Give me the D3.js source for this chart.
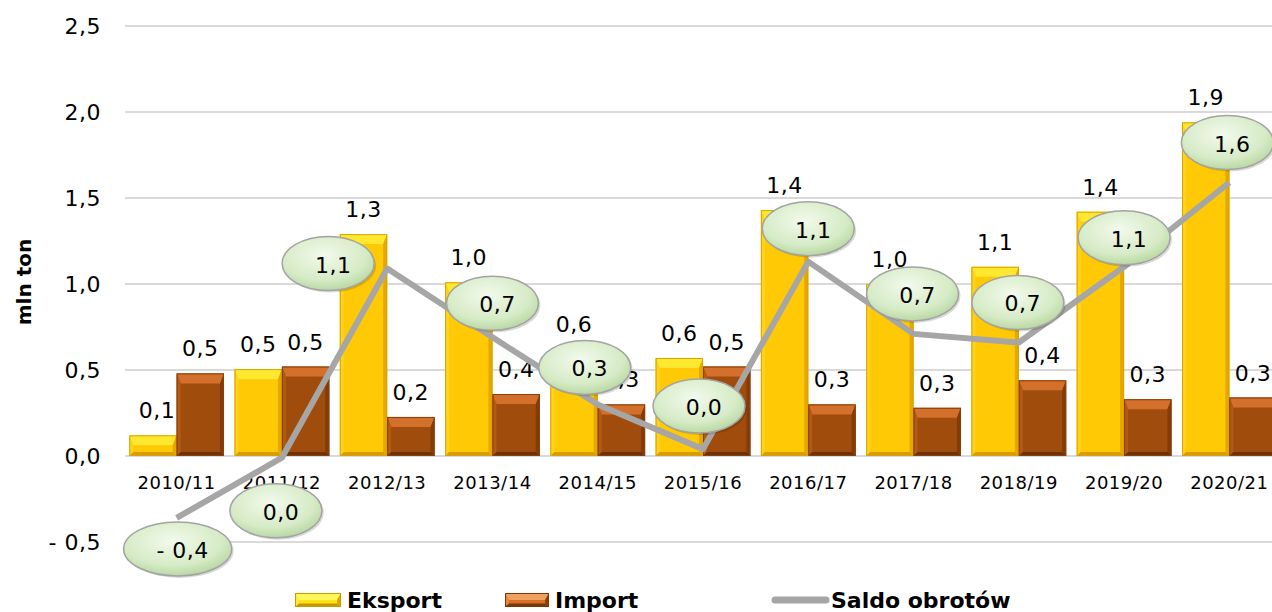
<!DOCTYPE html>
<html>
<head>
<meta charset="utf-8">
<script src="https://cdn.jsdelivr.net/npm/d3@7"></script>
<style>
  body { margin: 0; background: #fff; }
  text { font-family: Verdana, "DejaVu Sans", sans-serif; }
</style>
</head>
<body>
<div class="chart"></div>
<script>
// Data (mln ton)
var categories = ["2010/11", "2011/12", "2012/13", "2013/14", "2014/15", "2015/16",
                  "2016/17", "2017/18", "2018/19", "2019/20", "2020/21"];
var eksport = [0.12, 0.505, 1.29, 1.01, 0.62, 0.57, 1.43, 1.0, 1.10, 1.42, 1.94];
var importVals = [0.48, 0.52, 0.227, 0.36, 0.30, 0.52, 0.30, 0.28, 0.44, 0.33, 0.34];
var saldo = [-0.36, -0.01, 1.09, 0.69, 0.30, 0.04, 1.13, 0.71, 0.66, 1.10, 1.59];
var yTicks = [-0.5, 0, 0.5, 1.0, 1.5, 2.0, 2.5];
var seriesNames = ["Eksport", "Import", "Saldo obrotów"];

// where each saldo callout sits relative to its point (layout only)
var bubbleShift = [[1, 31], [-6, 53], [-59, -5], [0, -34], [-13, -37], [-4, -43],
                   [0, -33], [-1, -40], [-1, -40], [0, -29], [-2, -40]];

var svgWidth = 1272;
var svgHeight = 612;

var svg = d3.select(".chart")
  .append("svg")
  .attr("width", svgWidth)
  .attr("height", svgHeight);

var defs = svg.append("defs");
var grad = defs.append("radialGradient")
  .attr("id", "bubbleFill")
  .attr("cx", "45%").attr("cy", "35%").attr("r", "65%");
grad.append("stop").attr("offset", "0%").attr("stop-color", "#f2faec");
grad.append("stop").attr("offset", "70%").attr("stop-color", "#d6ebc6");
grad.append("stop").attr("offset", "100%").attr("stop-color", "#b9d8a4");

var xScale = d3.scaleBand()
  .domain(categories)
  .range([124, 1282])
  .paddingInner(0.1)
  .paddingOuter(0.05);

var xSub = d3.scaleBand()
  .domain(["e", "i"])
  .range([0, xScale.bandwidth()]);

var yScale = d3.scaleLinear().domain([-0.5, 2.5]).range([542, 26]);

function fmt(v) {
  var r = Math.round(v * 10) / 10;
  if (r === 0) return "0,0";
  var s = Math.abs(r).toFixed(1).replace(".", ",");
  return r < 0 ? "- " + s : s;
}

// grid lines
svg.append("g").selectAll("line")
  .data(yTicks)
  .enter().append("line")
  .attr("x1", 125).attr("x2", svgWidth)
  .attr("y1", function(d) { return yScale(d); })
  .attr("y2", function(d) { return yScale(d); })
  .attr("stroke", function(d) { return d === 0 ? "#d3dae3" : "#d9d9d9"; })
  .attr("stroke-width", 2);

// y tick labels
svg.append("g").selectAll("text")
  .data(yTicks)
  .enter().append("text")
  .attr("x", 101)
  .attr("y", function(d) { return yScale(d) + 8; })
  .attr("text-anchor", "end")
  .attr("font-size", 22)
  .attr("letter-spacing", 0.5)
  .attr("fill", "#000")
  .text(fmt);

// y axis title
svg.append("text")
  .attr("transform", "translate(31,282) rotate(-90)")
  .attr("text-anchor", "middle")
  .attr("font-size", 20)
  .attr("font-weight", "bold")
  .text("mln ton");

// bar with a bevelled look
function bevelBar(g, x, y, w, h, c) {
  var s = Math.min(4, w / 4);
  var bt = Math.min(10, h / 2);
  var bb = Math.min(4, h / 4);
  g.append("rect").attr("x", x).attr("y", y).attr("width", w).attr("height", h)
    .attr("fill", c.face);
  g.append("polygon")
    .attr("points", [[x, y], [x + w, y], [x + w - s, y + bt], [x + s, y + bt]].join(" "))
    .attr("fill", c.top);
  g.append("polygon")
    .attr("points", [[x, y], [x + s, y + bt], [x + s, y + h - bb], [x, y + h]].join(" "))
    .attr("fill", c.left);
  g.append("polygon")
    .attr("points", [[x + w, y], [x + w - s, y + bt], [x + w - s, y + h - bb], [x + w, y + h]].join(" "))
    .attr("fill", c.right);
  g.append("polygon")
    .attr("points", [[x, y + h], [x + s, y + h - bb], [x + w - s, y + h - bb], [x + w, y + h]].join(" "))
    .attr("fill", c.bottom);
  g.append("rect").attr("x", x + 0.5).attr("y", y + 0.5).attr("width", w - 1).attr("height", Math.max(0, h - 1))
    .attr("fill", "none").attr("stroke", c.edge).attr("stroke-width", 1);
}

var exportColors = { face: "#ffc905", top: "#ffe82e", left: "#ffd21f", right: "#e6a800", bottom: "#d89c00", edge: "#d9a400" };
var importColors = { face: "#a04c0c", top: "#d2702c", left: "#b35a16", right: "#833b08", bottom: "#6f3106", edge: "#8a4009" };

var bars = svg.append("g");
categories.forEach(function(cat, i) {
  var gx = xScale(cat);
  var w = xSub.bandwidth();
  bevelBar(bars, gx + xSub("e"), yScale(eksport[i]), w, yScale(0) - yScale(eksport[i]), exportColors);
  bevelBar(bars, gx + xSub("i"), yScale(importVals[i]), w, yScale(0) - yScale(importVals[i]), importColors);
});

// bar value labels
var labels = svg.append("g").attr("font-size", 22).attr("letter-spacing", 0.5).attr("text-anchor", "middle");
categories.forEach(function(cat, i) {
  var gx = xScale(cat);
  var w = xSub.bandwidth();
  labels.append("text")
    .attr("x", gx + xSub("e") + w / 2 + (i === 0 ? 4 : 0))
    .attr("y", yScale(eksport[i]) - 17)
    .text(fmt(eksport[i]));
  labels.append("text")
    .attr("x", gx + xSub("i") + w / 2)
    .attr("y", yScale(importVals[i]) - 17)
    .text(fmt(importVals[i]));
});

// category labels
svg.append("g").selectAll("text")
  .data(categories)
  .enter().append("text")
  .attr("x", function(d) { return xScale(d) + xScale.bandwidth() / 2; })
  .attr("y", 489)
  .attr("text-anchor", "middle")
  .attr("font-size", 18)
  .attr("letter-spacing", 0.5)
  .text(function(d) { return d; });

// saldo line
var line = d3.line()
  .x(function(d, i) { return xScale(categories[i]) + xScale.bandwidth() / 2; })
  .y(function(d) { return yScale(d); });

svg.append("path")
  .datum(saldo)
  .attr("d", line)
  .attr("fill", "none")
  .attr("stroke", "#a6a6a6")
  .attr("stroke-width", 6)
  .attr("stroke-linejoin", "round");

// saldo callouts
var bubbles = svg.append("g");
saldo.forEach(function(v, i) {
  var px = xScale(categories[i]) + xScale.bandwidth() / 2;
  var py = yScale(v);
  var cx = px + bubbleShift[i][0];
  var cy = py + bubbleShift[i][1];
  var txt = fmt(v);
  var rx = txt.length > 3 ? 54 : 46;
  bubbles.append("ellipse")
    .attr("cx", cx + 2).attr("cy", cy + 2).attr("rx", rx).attr("ry", 27)
    .attr("fill", "#000").attr("opacity", 0.15);
  bubbles.append("ellipse")
    .attr("cx", cx).attr("cy", cy).attr("rx", rx).attr("ry", 27)
    .attr("fill", "url(#bubbleFill)")
    .attr("stroke", "#a3a3a3").attr("stroke-width", 1.5);
  bubbles.append("text")
    .attr("x", cx + 5).attr("y", cy + 9)
    .attr("text-anchor", "middle")
    .attr("font-size", 22)
    .attr("letter-spacing", 0.5)
    .text(txt);
});

// legend
var legend = svg.append("g").attr("font-size", 22).attr("font-weight", "bold");
bevelBar(legend, 295, 593, 46, 14, { face: "#ffe31a", top: "#fff65a", left: "#ffe840", right: "#d9a800", bottom: "#c99600", edge: "#c99a00" });
legend.append("text").attr("x", 347).attr("y", 608).text(seriesNames[0]);
bevelBar(legend, 505, 593, 44, 14, { face: "#d4722a", top: "#f0a060", left: "#e08a45", right: "#8a4009", bottom: "#7a3807", edge: "#7a3807" });
legend.append("text").attr("x", 555).attr("y", 608).text(seriesNames[1]);
legend.append("line")
  .attr("x1", 775).attr("x2", 826).attr("y1", 600).attr("y2", 600)
  .attr("stroke", "#a6a6a6").attr("stroke-width", 7).attr("stroke-linecap", "round");
legend.append("text").attr("x", 831).attr("y", 608).text(seriesNames[2]);
</script>
</body>
</html>
